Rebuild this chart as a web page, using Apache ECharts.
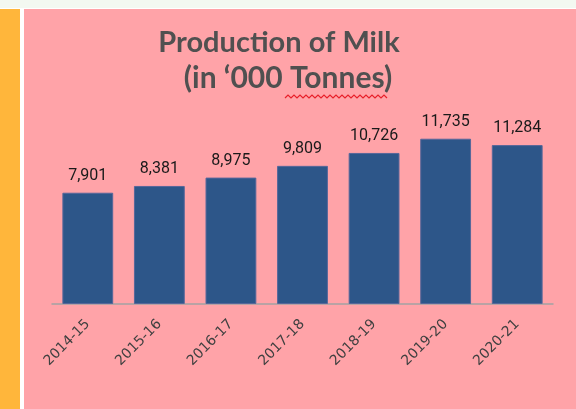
<!DOCTYPE html>
<html>
<head>
<meta charset="utf-8">
<script src="https://cdn.jsdelivr.net/npm/echarts@6/dist/echarts.min.js"></script>
<style>
  html, body { margin: 0; padding: 0; background: #ffffff; }
  #chart { width: 576px; height: 409px; }
</style>
</head>
<body>
<div id="chart"></div>
<script>
const categories = ['2014-15', '2015-16', '2016-17', '2017-18', '2018-19', '2019-20', '2020-21'];
const production = [7901, 8381, 8975, 9809, 10726, 11735, 11284];
const titleLine1 = 'Production of Milk';
const titleLine2 = '(in \u2018000 Tonnes)';

const chart = echarts.init(document.getElementById('chart'), null, { renderer: 'canvas' });

const option = {
  backgroundColor: '#ffffff',
  animation: false,
  title: [
    { text: titleLine1, left: 274, top: 23, textAlign: 'center',
      textStyle: { fontFamily: 'Lato', fontWeight: 'bold', fontSize: 29, color: '#505050' } },
    { text: titleLine2, left: 283, top: 58, textAlign: 'center',
      textStyle: { fontFamily: 'Lato', fontWeight: 'bold', fontSize: 30, color: '#505050' } }
  ],
  graphic: [
    { type: 'rect', z: -10, shape: { x: 0, y: 0, width: 576, height: 8 }, style: { fill: '#f3f8f1' } },
    { type: 'rect', z: -10, shape: { x: 0, y: 9, width: 20, height: 400 }, style: { fill: '#ffb63b' } },
    { type: 'rect', z: -10, shape: { x: 24, y: 9, width: 552, height: 400 }, style: { fill: '#ffa3a8' } },
    {
      type: 'polyline', z: 10,
      shape: { points: (function () { const p = []; for (let x = 285, i = 0; x <= 388; x += 3, i++) p.push([x, i % 2 ? 95 : 98]); return p; })() },
      style: { stroke: '#e8202a', lineWidth: 1.2, fill: null }
    }
  ],
  grid: { left: 52, right: 23, top: 135, bottom: 105 },
  xAxis: {
    type: 'category',
    data: categories,
    axisLine: { show: true, lineStyle: { color: '#a3a3a3', width: 1.5 } },
    axisTick: { show: false },
    axisLabel: {
      rotate: 45, margin: 18, interval: 0,
      fontFamily: 'DejaVu Sans', fontSize: 14, color: '#404040'
    }
  },
  yAxis: {
    type: 'value', min: 0, max: 12000, show: false,
    splitLine: { show: false }
  },
  series: [{
    type: 'bar',
    data: production,
    barWidth: '71%',
    itemStyle: { color: '#2d5689', borderColor: '#56679a', borderWidth: 1 },
    label: {
      show: true, position: 'top', distance: 9,
      fontFamily: 'Roboto', fontSize: 16, color: '#1a1a1a',
      formatter: function (p) { return p.value.toLocaleString('en-US'); }
    }
  }]
};
chart.setOption(option);
</script>
</body>
</html>
